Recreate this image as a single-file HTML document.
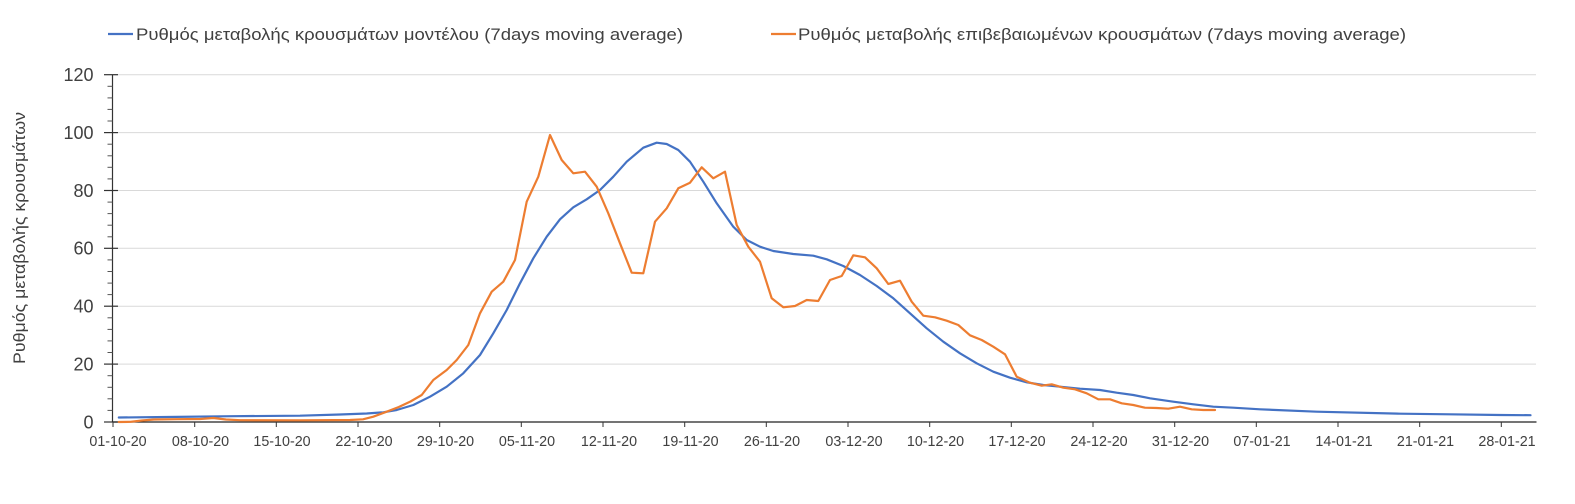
<!DOCTYPE html>
<html>
<head>
<meta charset="utf-8">
<style>
html,body{margin:0;padding:0;background:#fff;}
svg{display:block;}
text{font-family:"Liberation Sans","DejaVu Sans",sans-serif;}
</style>
</head>
<body>
<svg width="1575" height="504" viewBox="0 0 1575 504" xmlns="http://www.w3.org/2000/svg">
<rect width="1575" height="504" fill="#fff"/>
<!-- gridlines -->
<g stroke="#d9d9d9" stroke-width="1">
<line x1="113" y1="74.7" x2="1536" y2="74.7"/>
<line x1="113" y1="132.6" x2="1536" y2="132.6"/>
<line x1="113" y1="190.5" x2="1536" y2="190.5"/>
<line x1="113" y1="248.3" x2="1536" y2="248.3"/>
<line x1="113" y1="306.2" x2="1536" y2="306.2"/>
<line x1="113" y1="364.1" x2="1536" y2="364.1"/>
</g>
<!-- y axis -->
<g stroke="#333" stroke-width="1.2">
<line x1="112.5" y1="74.7" x2="112.5" y2="422"/>
<line x1="104" y1="74.7" x2="118" y2="74.7"/>
<line x1="104" y1="132.6" x2="118" y2="132.6"/>
<line x1="104" y1="190.5" x2="118" y2="190.5"/>
<line x1="104" y1="248.3" x2="118" y2="248.3"/>
<line x1="104" y1="306.2" x2="118" y2="306.2"/>
<line x1="104" y1="364.1" x2="118" y2="364.1"/>
<line x1="104" y1="422" x2="118" y2="422"/>
</g>
<g stroke="#555" stroke-width="1">
<line x1="107.5" y1="86.3" x2="112.5" y2="86.3"/><line x1="107.5" y1="97.9" x2="112.5" y2="97.9"/><line x1="107.5" y1="109.4" x2="112.5" y2="109.4"/><line x1="107.5" y1="121.0" x2="112.5" y2="121.0"/>
<line x1="107.5" y1="144.2" x2="112.5" y2="144.2"/><line x1="107.5" y1="155.8" x2="112.5" y2="155.8"/><line x1="107.5" y1="167.3" x2="112.5" y2="167.3"/><line x1="107.5" y1="178.9" x2="112.5" y2="178.9"/>
<line x1="107.5" y1="202.1" x2="112.5" y2="202.1"/><line x1="107.5" y1="213.6" x2="112.5" y2="213.6"/><line x1="107.5" y1="225.2" x2="112.5" y2="225.2"/><line x1="107.5" y1="236.8" x2="112.5" y2="236.8"/>
<line x1="107.5" y1="259.9" x2="112.5" y2="259.9"/><line x1="107.5" y1="271.5" x2="112.5" y2="271.5"/><line x1="107.5" y1="283.1" x2="112.5" y2="283.1"/><line x1="107.5" y1="294.6" x2="112.5" y2="294.6"/>
<line x1="107.5" y1="317.8" x2="112.5" y2="317.8"/><line x1="107.5" y1="329.4" x2="112.5" y2="329.4"/><line x1="107.5" y1="340.9" x2="112.5" y2="340.9"/><line x1="107.5" y1="352.5" x2="112.5" y2="352.5"/>
<line x1="107.5" y1="375.7" x2="112.5" y2="375.7"/><line x1="107.5" y1="387.3" x2="112.5" y2="387.3"/><line x1="107.5" y1="398.8" x2="112.5" y2="398.8"/><line x1="107.5" y1="410.4" x2="112.5" y2="410.4"/>
</g>
<!-- y labels -->
<g font-size="18" fill="#404040" text-anchor="end">
<text x="93.5" y="81">120</text>
<text x="93.5" y="139">100</text>
<text x="93.5" y="197">80</text>
<text x="93.5" y="254.5">60</text>
<text x="93.5" y="312.5">40</text>
<text x="93.5" y="370.5">20</text>
<text x="93.5" y="428.5">0</text>
</g>
<!-- y title -->
<text transform="translate(25,238) rotate(-90)" text-anchor="middle" font-size="17" fill="#404040" textLength="252" lengthAdjust="spacingAndGlyphs">Ρυθμός μεταβολής κρουσμάτων</text>
<!-- x axis -->
<line x1="112.5" y1="422" x2="1536.5" y2="422" stroke="#222" stroke-width="1.3"/>
<g stroke="#333" stroke-width="1">
<line x1="113" y1="422" x2="113" y2="427"/>
<line x1="194.7" y1="422" x2="194.7" y2="427"/>
<line x1="276.3" y1="422" x2="276.3" y2="427"/>
<line x1="358" y1="422" x2="358" y2="427"/>
<line x1="439.7" y1="422" x2="439.7" y2="427"/>
<line x1="521.3" y1="422" x2="521.3" y2="427"/>
<line x1="603" y1="422" x2="603" y2="427"/>
<line x1="684.7" y1="422" x2="684.7" y2="427"/>
<line x1="766.3" y1="422" x2="766.3" y2="427"/>
<line x1="848" y1="422" x2="848" y2="427"/>
<line x1="929.7" y1="422" x2="929.7" y2="427"/>
<line x1="1011.3" y1="422" x2="1011.3" y2="427"/>
<line x1="1093" y1="422" x2="1093" y2="427"/>
<line x1="1174.7" y1="422" x2="1174.7" y2="427"/>
<line x1="1256.3" y1="422" x2="1256.3" y2="427"/>
<line x1="1338" y1="422" x2="1338" y2="427"/>
<line x1="1419.7" y1="422" x2="1419.7" y2="427"/>
<line x1="1501.3" y1="422" x2="1501.3" y2="427"/>
</g>
<g font-size="14.3" fill="#404040" text-anchor="middle">
<text x="118" y="446">01-10-20</text>
<text x="200.5" y="446">08-10-20</text>
<text x="282" y="446">15-10-20</text>
<text x="364" y="446">22-10-20</text>
<text x="445.5" y="446">29-10-20</text>
<text x="527" y="446">05-11-20</text>
<text x="609" y="446">12-11-20</text>
<text x="690.5" y="446">19-11-20</text>
<text x="772" y="446">26-11-20</text>
<text x="854" y="446">03-12-20</text>
<text x="935.5" y="446">10-12-20</text>
<text x="1017" y="446">17-12-20</text>
<text x="1099" y="446">24-12-20</text>
<text x="1180.5" y="446">31-12-20</text>
<text x="1262" y="446">07-01-21</text>
<text x="1344" y="446">14-01-21</text>
<text x="1425.5" y="446">21-01-21</text>
<text x="1507" y="446">28-01-21</text>
</g>
<!-- blue series -->
<polyline fill="none" stroke="#4472C4" stroke-width="2.2" stroke-linejoin="round" stroke-linecap="round" points="118.8,417.5 166.7,417 233,416.2 300,415.7 340,414.5 366.7,413.5 383.3,412.3 396.7,410 413.3,405 430,396.7 446.7,386.7 463.3,373.3 480,355 493.3,333.3 506.7,310 520,283.3 533.3,258.3 546.7,236.7 560,219.3 573.3,207.3 586.7,199.3 600,190 613.3,176.7 626.7,161.7 643.3,147.7 656.7,142.7 666.7,144 678.3,150 690,161.7 703.3,181.7 716.7,203.3 733.3,226.7 746.7,240 760,246.7 773.3,251 793.3,254 813.3,255.7 826.7,259.3 843.3,266 860,275 876.7,286 893.3,298.3 910,313.3 926.7,328.3 943.3,341.7 960,353.3 976.7,363.3 993.3,371.7 1010,377.7 1026.7,382.3 1043.3,385 1060,386.7 1080,388.7 1100,390 1116.7,392.7 1133.3,395 1150,398.3 1173.3,401.7 1193.3,404.3 1213.3,406.7 1233.3,407.7 1260,409.3 1316.7,411.7 1400,413.7 1450,414.3 1500,415 1530.5,415.2"/>
<!-- orange series -->
<polyline fill="none" stroke="#ED7D31" stroke-width="2.2" stroke-linejoin="round" stroke-linecap="round" points="118.8,422 130.5,421.8 142,420.5 154,419.5 177,419.2 200,419 213.3,418 226,419.5 240,420.2 300,420.3 350,420 363,419.3 373.3,416.7 386.7,411.7 398.8,407 410.5,401.5 421.7,395 433.3,380 446.7,370 456.7,360 468.3,345 480,313.3 491.7,291.7 503.3,281.7 515,260 526.7,201.7 538.3,176.7 550,135 561.7,160 573.3,173.3 585,171.7 596.7,186.7 608.3,213.3 620,243.3 631.7,272.7 643.3,273.3 655,221.7 666.7,208.3 678.3,188.3 690,182.7 701.7,167.3 713.3,178.3 725,171.7 736.7,225 748.3,246.7 760,261.7 771.7,298.3 783.3,307.3 795,306 806.7,300 818.3,301 830,280 841.7,276 853.3,255.3 865,257.3 876.7,268.3 888.3,284 900,280.7 911.7,301.7 923.3,315.7 935,317.3 946.7,320.7 958.3,325 970,335.3 981.7,340 993.3,346.7 1005,354.3 1016.7,376.7 1030,382.7 1041.7,385.7 1051.7,384.3 1063.3,387.7 1075,389.3 1086.7,393.3 1098.3,399.3 1110,399.3 1121.7,403.3 1133.3,405 1145,407.7 1156.7,408 1168.3,408.7 1180,406.7 1191.7,409.3 1203.3,410 1215,410"/>
<!-- legend -->
<line x1="108" y1="34" x2="133" y2="34" stroke="#4472C4" stroke-width="2.2"/>
<text x="136" y="40" font-size="17" fill="#404040" textLength="547" lengthAdjust="spacingAndGlyphs">Ρυθμός μεταβολής κρουσμάτων μοντέλου (7days moving average)</text>
<line x1="771" y1="34" x2="796" y2="34" stroke="#ED7D31" stroke-width="2.2"/>
<text x="798" y="40" font-size="17" fill="#404040" textLength="608" lengthAdjust="spacingAndGlyphs">Ρυθμός μεταβολής επιβεβαιωμένων κρουσμάτων (7days moving average)</text>
</svg>
</body>
</html>
